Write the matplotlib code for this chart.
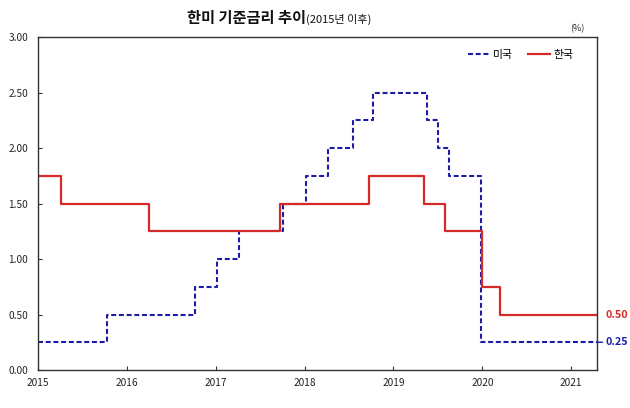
import matplotlib
matplotlib.use("Agg")
import matplotlib.pyplot as plt

plt.rcParams['font.family'] = ['Noto Sans CJK KR', 'DejaVu Sans']

# Data (decimal years of rate changes, and the rate from that point)
kr_dates = [2015.0, 2015.26, 2016.25, 2017.72, 2018.72, 2019.34, 2019.58, 2020.0, 2020.2]
kr_rates = [1.75, 1.50, 1.25, 1.50, 1.75, 1.50, 1.25, 0.75, 0.50]
us_dates = [2015.0, 2015.775, 2016.765, 2017.01, 2017.26, 2017.755, 2018.02, 2018.26,
            2018.54, 2018.765, 2019.38, 2019.505, 2019.63, 2019.98]
us_rates = [0.25, 0.50, 0.75, 1.00, 1.25, 1.50, 1.75, 2.00, 2.25, 2.50, 2.25, 2.00, 1.75, 0.25]
end_date = 2021.29
year_ticks = [2015, 2016, 2017, 2018, 2019, 2020, 2021]
y_ticks = [0.0, 0.5, 1.0, 1.5, 2.0, 2.5, 3.0]

red = '#d42a2a'
blue = '#1c1ca8'

fig = plt.figure(figsize=(6.3, 4.08), dpi=100)
ax = fig.add_axes([0.0603, 0.0931, 0.8873, 0.8162])

ax.plot(us_dates + [end_date], us_rates + [us_rates[-1]], drawstyle='steps-post',
        color=blue, lw=1.5, ls=(0, (2.4, 1.3)), label='미국')
ax.plot(kr_dates + [end_date], kr_rates + [kr_rates[-1]], drawstyle='steps-post',
        color=red, lw=1.6, label='한국')

ax.set_xlim(2015, end_date)
ax.set_ylim(0, 3)
ax.set_xticks(year_ticks)
ax.set_xticklabels([str(y) for y in year_ticks], fontsize=7.3, color='#222222')
ax.set_yticks(y_ticks)
ax.set_yticklabels([f'{v:.2f}' for v in y_ticks], fontsize=7.3, color='#222222')
ax.tick_params(axis='both', direction='in', length=3, width=0.8, color='#333333')
ax.tick_params(axis='x', pad=6)
ax.tick_params(axis='y', pad=7)
for s in ax.spines.values():
    s.set_color('#333333')
    s.set_linewidth(1.0)

leg = ax.legend(loc='upper right', ncol=2, frameon=False, fontsize=7.8,
                handlelength=2.0, handletextpad=0.3, columnspacing=1.4,
                bbox_to_anchor=(0.975, 0.99))

# end labels
ax.annotate(f'{kr_rates[-1]:.2f}', xy=(end_date, kr_rates[-1]), xytext=(6, 0),
            textcoords='offset points', color=red, fontsize=7.8, fontweight='bold',
            va='center', ha='left', annotation_clip=False)
ax.annotate(f'{us_rates[-1]:.2f}', xy=(end_date, us_rates[-1]), xytext=(6, 0),
            textcoords='offset points', color=blue, fontsize=7.8, fontweight='bold',
            va='center', ha='left', annotation_clip=False,
            arrowprops=dict(arrowstyle='-', color=blue, lw=1.0, shrinkA=0, shrinkB=0))

# title
fig.text(0.485, 0.955, '한미 기준금리 추이', fontsize=11, fontweight='bold',
         ha='right', va='center', color='#111111')
fig.text(0.486, 0.952, '(2015년 이후)', fontsize=8, ha='left', va='center', color='#111111')
fig.text(0.917, 0.93, '(%)', fontsize=6.5, ha='center', va='center', color='#222222')

fig.savefig('out.png', dpi=100)
